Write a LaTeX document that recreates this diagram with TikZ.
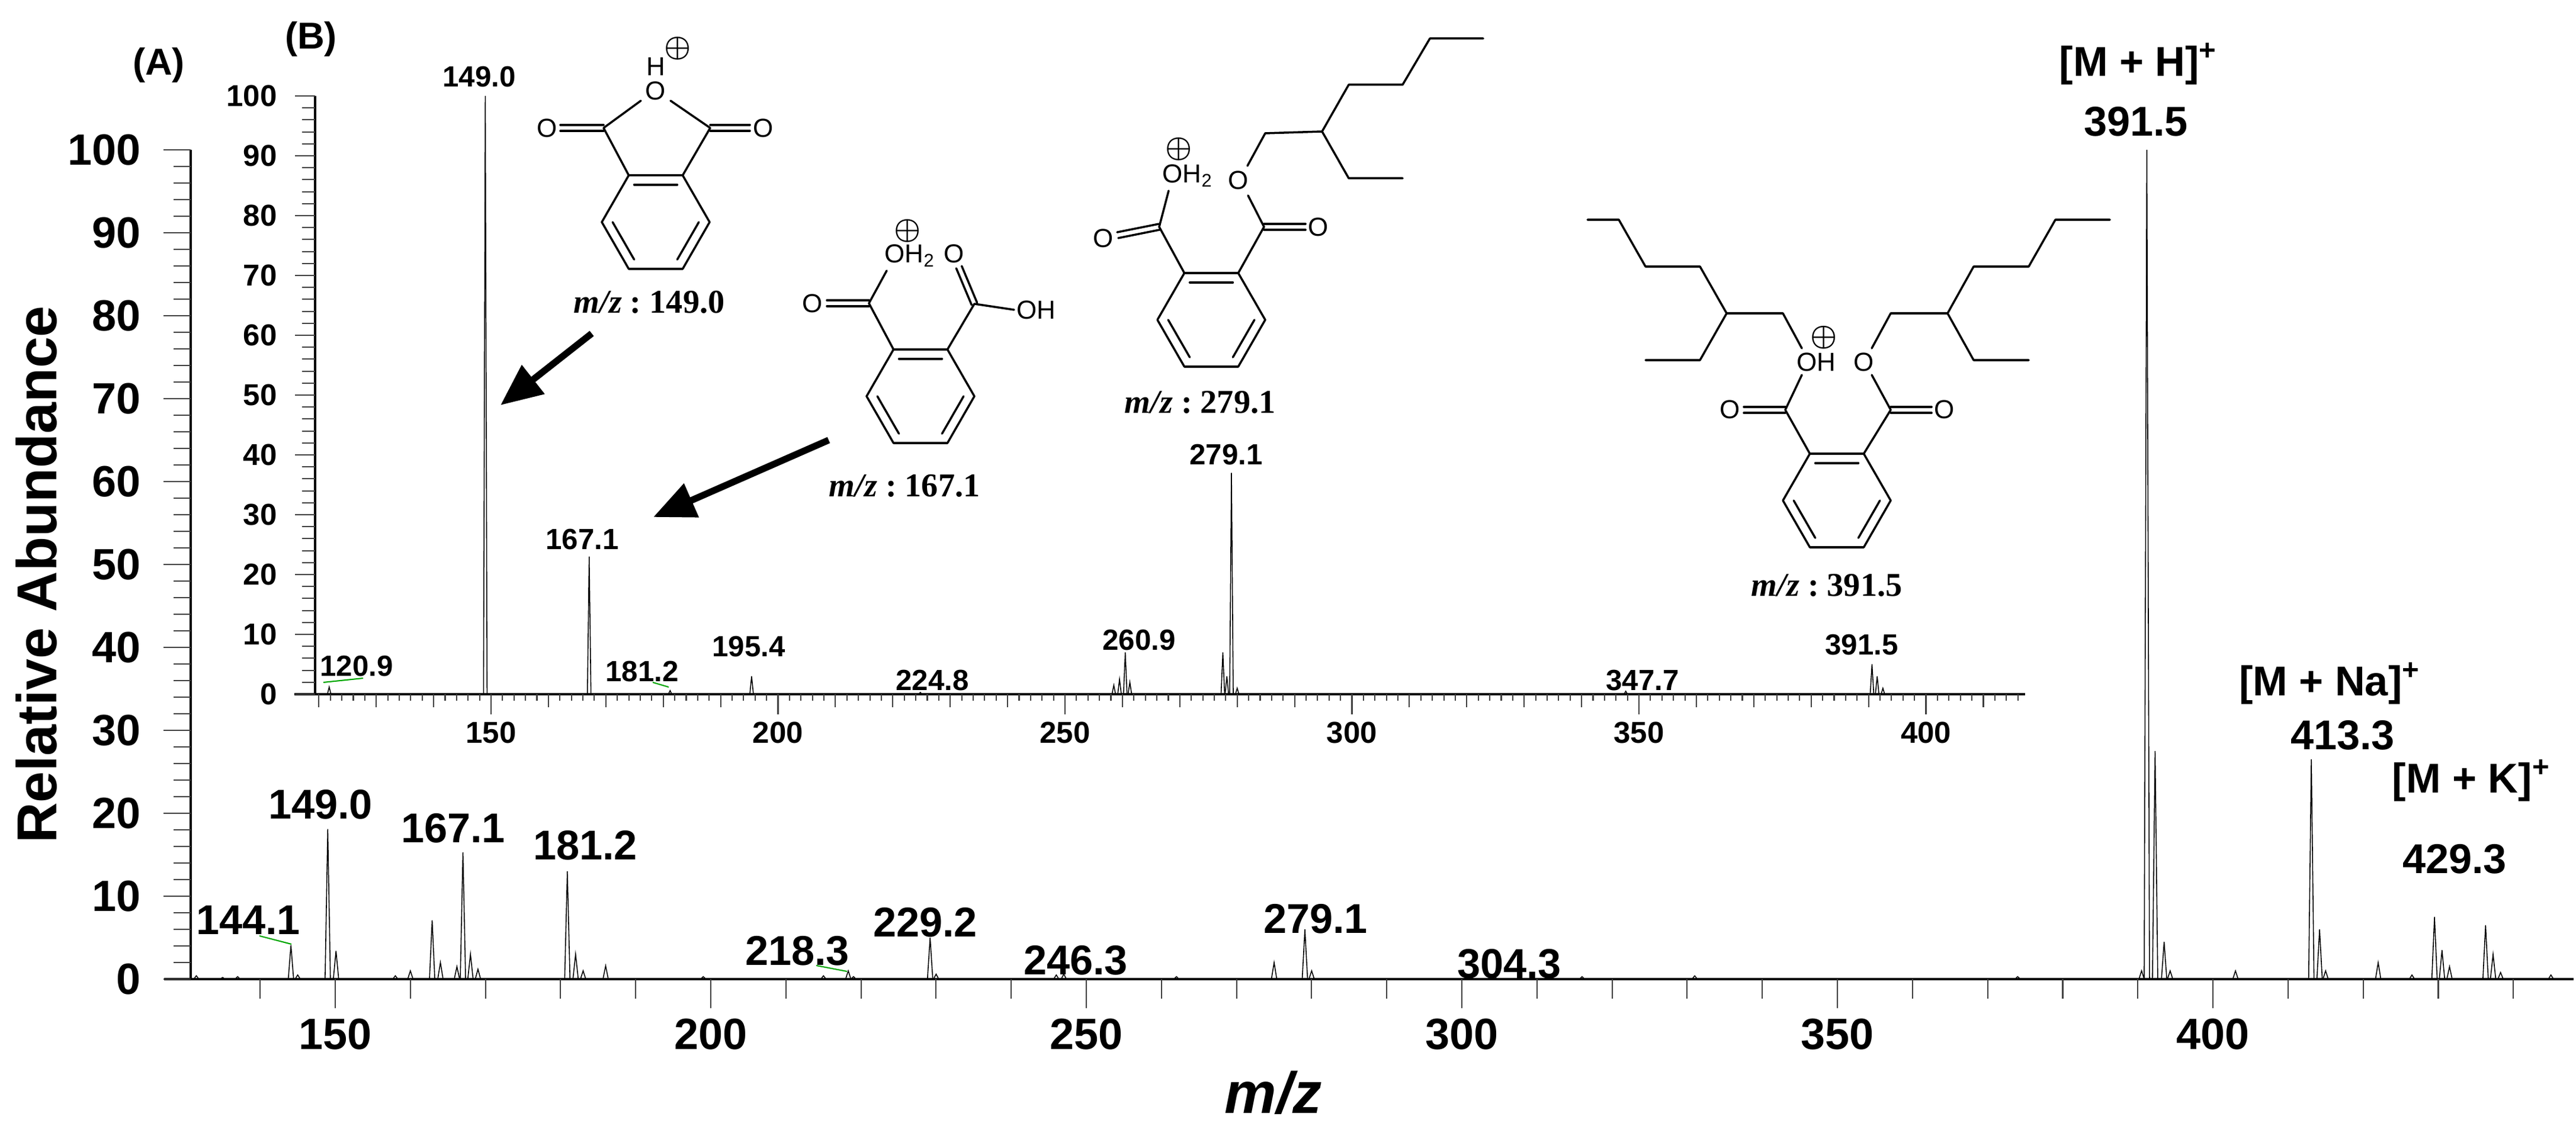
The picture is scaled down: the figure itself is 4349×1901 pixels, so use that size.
\documentclass[tikz,border=0pt]{standalone}
\usepackage{fontspec}
\setmainfont{Liberation Sans}
\newfontfamily\serifB{Liberation Serif}
\usetikzlibrary{calc,arrows.meta}
\newcommand\fs[1]{\fontsize{#1}{#1}\selectfont}
\newcommand\ring[3]{%
 \coordinate (#1c) at (#2,#3);
 \coordinate (#1R) at (#2+91,#3); \coordinate (#1TR) at (#2+45.5,#3-79);
 \coordinate (#1TL) at (#2-45.5,#3-79); \coordinate (#1L) at (#2-91,#3);
 \coordinate (#1BL) at (#2-45.5,#3+79); \coordinate (#1BR) at (#2+45.5,#3+79);
 \draw[bond] (#1R)--(#1TR)--(#1TL)--(#1L)--(#1BL)--(#1BR)--cycle;
 \draw[bond] ($(#1c)!0.8!(#1TL)$)--($(#1c)!0.8!(#1TR)$);
 \draw[bond] ($(#1c)!0.8!(#1R)$)--($(#1c)!0.8!(#1BR)$);
 \draw[bond] ($(#1c)!0.8!(#1BL)$)--($(#1c)!0.8!(#1L)$);}
\newcommand\dbl[2]{%
 \draw[bond] ($(#1)!0.05cm!90:(#2)$) -- ($(#2)!0.05cm!-90:(#1)$);
 \draw[bond] ($(#1)!0.05cm!-90:(#2)$) -- ($(#2)!0.05cm!90:(#1)$);}
\newcommand\mzlab[2]{{\serifB\bfseries\itshape m/z}{\serifB\bfseries\ :\ #2}}
\begin{document}
\begin{tikzpicture}[x=0.01cm,y=-0.01cm,
 bond/.style={line width=1pt,line cap=round,line join=round},
 peak/.style={line width=0.45pt},
 axisl/.style={line width=0.9pt},
 tickl/.style={line width=0.6pt,black!75},
 tickA/.style={font=\bfseries\fs{21}},
 peakA/.style={font=\bfseries\fs{20}},
 tickB/.style={font=\bfseries\fs{14.5}},
 peakB/.style={font=\bfseries\fs{14}},
 atom/.style={font=\fs{12.5},inner sep=0pt},
 chg/.style={font=\boldmath\fs{13.5},inner sep=0pt},
 mzl/.style={font=\fs{16},inner sep=0pt},
 lead/.style={green!65!black,line width=0.6pt},
 bigarrow/.style={line width=3.2pt,-{Triangle[length=20pt,width=17pt]}}]
\useasboundingbox (0,0) rectangle (4349,1901);
% ===== main axes =====
\draw[axisl] (322,253) -- (322,1653);
\draw[axisl] (277,1653) -- (4345,1653);
\foreach \v in {0,2,...,100}{
  \pgfmathtruncatemacro\mj{mod(\v,10)==0}
  \ifnum\mj=1 \draw[tickl] (276,{1653-14*\v}) -- (322,{1653-14*\v});
    \node[tickA,anchor=east] at (250,{1653-14*\v}) {\v};
  \else \draw[tickl] (293,{1653-14*\v}) -- (322,{1653-14*\v}); \fi}
\foreach \m in {140,150,...,440}{
  \pgfmathtruncatemacro\mj{mod(\m,50)==0}
  \ifnum\mj=1 \draw[tickl] ({566+12.68*(\m-150)},1653) -- ({566+12.68*(\m-150)},1702);
    \node[tickA] at ({566+12.68*(\m-150)},1746) {\m};
  \else \draw[tickl] ({566+12.68*(\m-150)},1653) -- ({566+12.68*(\m-150)},1686); \fi}
\node[font=\bfseries\fs{27},rotate=90] (ylab) at (62,970) {Relative Abundance};
\node[font=\bfseries\itshape\fs{28}] (xlab) at (2150,1845) {m/z};
% main peaks
\foreach \m/\h in {131.5/0.4,135/0.2,137/0.3,144.1/4.1,145/0.5,149.0/18.1,150.1/3.4,158/0.4,160/1.0,162.9/7.1,164/2.0,166.2/1.5,167.0/15.3,168.0/3.0,169/1.2,180.9/13.0,182.0/3.0,183/1.0,186/1.6,199/0.3,215/0.4,218.3/1.0,219/0.3,229.2/5.0,230/0.6,246/0.5,247/0.6,262/0.3,275/2.0,279.1/6.0,280/1.0,304.3/0.5,316/0.3,331/0.4,374/0.3,390.5/1.0,391.2/100,392.3/27.5,393.5/4.5,394.3/1.0,403/1.0,413.1/26.5,414.2/6.0,415/1.0,422/2.0,426.5/0.5,429.5/7.5,430.5/3.5,431.5/1.5,436.3/6.5,437.3/3.0,438.3/0.8,445/0.5}{
  \draw[peak] ({566+12.68*(\m-150)-4.5},1653) -- ({566+12.68*(\m-150)},{1653-14*\h}) -- ({566+12.68*(\m-150)+4.5},1653);}
\node[peakA] (p144) at (419,1553) {144.1};
\draw[lead] (438,1580) -- (492,1594);
\node[peakA] (p149) at (541,1358) {149.0};
\node[peakA] (p167) at (765,1398) {167.1};
\node[peakA] (p181) at (988,1427) {181.2};
\node[peakA] (p218) at (1346,1605) {218.3};
\draw[lead] (1378,1630) -- (1430,1640);
\node[peakA] (p229) at (1562,1557) {229.2};
\node[peakA] (p246) at (1816,1621) {246.3};
\node[peakA] (p279) at (2221,1551) {279.1};
\node[peakA] (p304) at (2548,1627) {304.3};
\node[peakA] (mh) at (3610,108) {[M + H]\textsuperscript{+}};
\node[peakA] (p391) at (3606,205) {391.5};
\node[peakA] (mna) at (3933,1154) {[M + Na]\textsuperscript{+}};
\node[peakA] (p413) at (3955,1241) {413.3};
\node[peakA] (mk) at (4172,1318) {[M + K]\textsuperscript{+}};
\node[peakA] (p429) at (4144,1450) {429.3};
% ===== inset =====
\draw[axisl] (532,162) -- (532,1172);
\draw[axisl] (497,1172) -- (3419,1172);
\foreach \v in {0,2,...,100}{
  \pgfmathtruncatemacro\mj{mod(\v,10)==0}
  \ifnum\mj=1 \draw[tickl] (498,{1172-10.1*\v}) -- (532,{1172-10.1*\v});
    \node[tickB,anchor=east] at (480,{1172-10.1*\v}) {\v};
  \else \draw[tickl] (510,{1172-10.1*\v}) -- (532,{1172-10.1*\v}); \fi}
\foreach \m in {120,122,...,416}{
  \pgfmathtruncatemacro\mj{mod(\m,50)==0}
  \pgfmathtruncatemacro\md{mod(\m,10)==0}
  \ifnum\mj=1 \draw[tickl] ({829+9.69*(\m-150)},1172) -- ({829+9.69*(\m-150)},1206);
    \node[tickB] at ({829+9.69*(\m-150)},1237) {\m};
  \else\ifnum\md=1 \draw[tickl] ({829+9.69*(\m-150)},1172) -- ({829+9.69*(\m-150)},1194);
  \else \draw[tickl] ({829+9.69*(\m-150)},1172) -- ({829+9.69*(\m-150)},1183); \fi\fi}
\foreach \m/\h in {121.8/1.2,149.0/100,167.1/23,181.2/0.6,195.4/3,224.8/0.3,258.5/1.5,259.5/2.5,260.5/7,261.3/2,277.5/7,278.2/3,279.0/37,280/1,347.7/0.5,390.6/5,391.5/3,392.5/1}{
  \draw[peak] ({829+9.69*(\m-150)-3},1172) -- ({829+9.69*(\m-150)},{1172-10.1*\h}) -- ({829+9.69*(\m-150)+3},1172);}
\node[peakB] (q121) at (602,1125) {120.9};
\draw[lead] (546,1152) -- (613,1145);
\node[peakB] (q149) at (809,130) {149.0};
\node[peakB] (q167) at (983,911) {167.1};
\node[peakB] (q181) at (1084,1134) {181.2};
\draw[lead] (1102,1152) -- (1129,1160);
\node[peakB] (q195) at (1264,1092) {195.4};
\node[peakB] (q224) at (1574,1149) {224.8};
\node[peakB] (q260) at (1923,1081) {260.9};
\node[peakB] (q279) at (2070,768) {279.1};
\node[peakB] (q347) at (2773,1149) {347.7};
\node[peakB] (q391) at (3143,1089) {391.5};
\node[font=\bfseries\fs{18}] (labA) at (268,110) {(A)};
\node[font=\bfseries\fs{18}] (labB) at (525,66) {(B)};
% ===== structure 1 (149.0) =====
\ring{a}{1107}{375}
\node[atom] (a-O) at (1107,153) {O};
\node[atom] (a-H) at (1107,112) {H};
\node[chg] (a-c) at (1144,82) {$\oplus$};
\coordinate (aCl) at (1019,216); \coordinate (aCr) at (1199,216);
\draw[bond] (aCl) -- (1082,170); \draw[bond] (aCr) -- (1132,170);
\draw[bond] (aCl) -- (aTL); \draw[bond] (aCr) -- (aTR);
\node[atom] (a-Ol) at (924,216) {O}; \coordinate (aOl) at (946,216); \dbl{aCl}{aOl}
\node[atom] (a-Or) at (1289,216) {O}; \coordinate (aOr) at (1266,216); \dbl{aCr}{aOr}
\node[mzl] (a-lab) at (1096,510) {\mzlab{}{149.0}};
% ===== structure 2 (167.1) =====
\ring{b}{1554}{669}
\coordinate (bC1) at (1467,512); \coordinate (bC2) at (1645,513);
\draw[bond] (bTL) -- (bC1) -- (1497,457);
\draw[bond] (bTR) -- (bC2) -- (1712,523);
\node[atom] (b-Ol) at (1372,512) {O}; \coordinate (bOl) at (1396,512); \dbl{bC1}{bOl}
\node[atom,anchor=west] (b-OH2) at (1493,432) {OH\textsubscript{2}};
\node[chg] (b-c) at (1532,390) {$\oplus$};
\node[atom] (b-Ot) at (1611,428) {O}; \coordinate (bOt) at (1619,451); \dbl{bC2}{bOt}
\node[atom,anchor=west] (b-OH) at (1716,523) {OH};
\node[mzl] (b-lab) at (1527,820) {\mzlab{}{167.1}};
% ===== structure 3 (279.1) =====
\ring{c}{2045}{540}
\coordinate (cC1) at (1957,383); \coordinate (cC2) at (2134,383);
\draw[bond] (cTL) -- (cC1) -- (1973,322);
\draw[bond] (cTR) -- (cC2) -- (2107,330);
\node[atom] (c-Ol) at (1863,402) {O}; \coordinate (cOl) at (1887,397); \dbl{cC1}{cOl}
\node[atom,anchor=west] (c-OH2) at (1962,297) {OH\textsubscript{2}};
\node[chg] (c-c) at (1990,252) {$\oplus$};
\node[atom] (c-Or) at (2226,383) {O}; \coordinate (cOr) at (2204,383); \dbl{cC2}{cOr}
\node[atom] (c-Oe) at (2091,304) {O};
\draw[bond] (2106,280) -- (2136,225) -- (2232,222) -- (2277,143) -- (2368,143) -- (2414,65) -- (2504,65);
\draw[bond] (2232,222) -- (2277,301) -- (2368,301);
\node[mzl] (c-lab) at (2026,679) {\mzlab{}{279.1}};
% ===== structure 4 (391.5) =====
\ring{d}{3101}{845}
\coordinate (dC1) at (3014,692); \coordinate (dC2) at (3192,692);
\draw[bond] (dTL) -- (dC1) -- (3042,633);
\draw[bond] (dTR) -- (dC2) -- (3160,633);
\node[atom] (d-Ol) at (2921,691) {O}; \coordinate (dOl) at (2944,692); \dbl{dC1}{dOl}
\node[atom] (d-Or) at (3283,691) {O}; \coordinate (dOr) at (3261,692); \dbl{dC2}{dOr}
\node[atom] (d-OH) at (3066,611) {OH};
\node[chg] (d-c) at (3079,570) {$\oplus$};
\node[atom] (d-Oe) at (3147,611) {O};
\draw[bond] (3042,588) -- (3010,529) -- (2915,529) -- (2870,450) -- (2778,450) -- (2733,371) -- (2680,371);
\draw[bond] (2915,529) -- (2870,608) -- (2778,608);
\draw[bond] (3160,588) -- (3192,529) -- (3288,529) -- (3332,450) -- (3425,450) -- (3470,371) -- (3562,371);
\draw[bond] (3288,529) -- (3332,608) -- (3425,608);
\node[mzl] (d-lab) at (3084,988) {\mzlab{}{391.5}};
% ===== arrows =====
\coordinate (ar1s) at (999,563); \coordinate (ar1e) at (845,684);
\coordinate (ar2s) at (1399,743); \coordinate (ar2e) at (1103,873);
\draw[bigarrow] (ar1s) -- (ar1e);
\draw[bigarrow] (ar2s) -- (ar2e);
\end{tikzpicture}
\end{document}
